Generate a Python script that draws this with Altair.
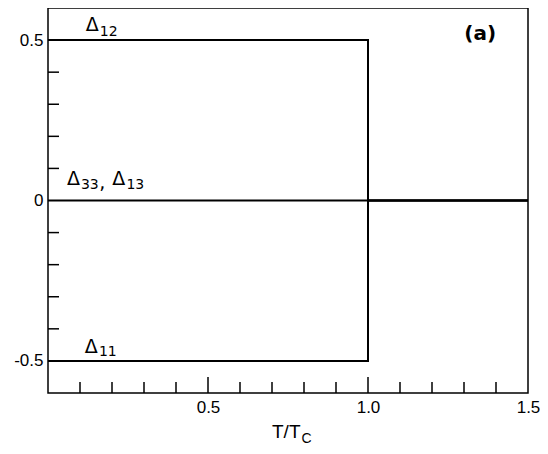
import altair as alt
import pandas as pd

W, H = 480, 385
FONT = "DejaVu Sans"
LFONT = "Liberation Sans"

# ---- data ----
d12_x = [0.0, 1.0, 1.0, 1.5]
d12_y = [0.5, 0.5, 0.0, 0.0]
d11_x = [0.0, 1.0, 1.0, 1.5]
d11_y = [-0.5, -0.5, 0.0, 0.0]
d33_x = [0.0, 1.5]
d33_y = [0.0, 0.0]

x_minor = [0.1, 0.2, 0.3, 0.4, 0.6, 0.7, 0.8, 0.9, 1.1, 1.2, 1.3, 1.4]
x_major = [0.5, 1.0]
y_minor = [-0.4, -0.3, -0.2, -0.1, 0.1, 0.2, 0.3, 0.4]
x_labels = [0.5, 1.0, 1.5]
y_labels = [-0.5, 0.0, 0.5]

main_text = ["Δ", "Δ", ",", "Δ", "Δ"]
main_x = [0.118, 0.059, 0.160, 0.201, 0.115]
main_y = [0.528, 0.047, 0.035, 0.047, -0.475]
sub_text = ["12", "33", "13", "11"]
sub_x = [0.162, 0.103, 0.245, 0.159]
sub_y = [0.513, 0.035, 0.035, -0.484]

# ---- tables ----
rows = []
for name, xs_, ys_ in [("D12", d12_x, d12_y), ("D11", d11_x, d11_y), ("D33", d33_x, d33_y)]:
    for i, (a, b) in enumerate(zip(xs_, ys_)):
        rows.append({"s": name, "x": a, "y": b, "o": i})
lines_df = pd.DataFrame(rows)

xs = alt.Scale(domain=[0, 1.5], nice=False, zero=False)
ys = alt.Scale(domain=[-0.6, 0.6], nice=False, zero=False)
XA = alt.Axis(values=x_labels, format=".1f", title=None, labelFlush=False, labelPadding=6)
YA = alt.Axis(values=y_labels, title=None, labelPadding=5,
              labelExpr="datum.value > 0.1 ? '0.5' : (datum.value < -0.1 ? '-0.5' : '0')")


def X(f):
    return alt.X(f, scale=xs, axis=XA)


def Y(f):
    return alt.Y(f, scale=ys, axis=YA)


lines = alt.Chart(lines_df).mark_line(color="black", strokeWidth=2).encode(
    x=X("x:Q"), y=Y("y:Q"), detail="s:N", order="o:Q")

xminor = alt.Chart(pd.DataFrame({"v": x_minor})).mark_rule(color="black", strokeWidth=1.5).encode(
    x=X("v:Q"), y=alt.value(H), y2=alt.value(H - 11))
xmajor = alt.Chart(pd.DataFrame({"v": x_major})).mark_rule(color="black", strokeWidth=1.5).encode(
    x=X("v:Q"), y=alt.value(H), y2=alt.value(H - 16))
yminor = alt.Chart(pd.DataFrame({"v": y_minor})).mark_rule(color="black", strokeWidth=1.5).encode(
    y=Y("v:Q"), x=alt.value(0), x2=alt.value(11))

main_df = pd.DataFrame({"t": main_text, "x": main_x, "y": main_y})
sub_df = pd.DataFrame({"t": sub_text, "x": sub_x, "y": sub_y})

mains = alt.Chart(main_df).mark_text(align="left", baseline="alphabetic", font=FONT,
                                     fontSize=19, color="black").encode(
    x=X("x:Q"), y=Y("y:Q"), text="t:N")
subs = alt.Chart(sub_df).mark_text(align="left", baseline="alphabetic", font=FONT,
                                   fontSize=14, color="black").encode(
    x=X("x:Q"), y=Y("y:Q"), text="t:N")

panel = alt.Chart(pd.DataFrame({"t": ["(a)"], "x": [1.301], "y": [0.501]})).mark_text(
    align="left", baseline="alphabetic", font=FONT, fontSize=20, fontWeight="bold", color="black").encode(
    x=X("x:Q"), y=Y("y:Q"), text="t:N")

title_main = alt.Chart(pd.DataFrame({"t": ["T/T"], "x": [0.70]})).mark_text(
    align="left", baseline="alphabetic", font=LFONT, fontSize=19, color="black").encode(
    x=X("x:Q"), y=alt.value(H + 45), text="t:N")
title_sub = alt.Chart(pd.DataFrame({"t": ["C"], "x": [0.792]})).mark_text(
    align="left", baseline="alphabetic", font=LFONT, fontSize=14, color="black").encode(
    x=X("x:Q"), y=alt.value(H + 50), text="t:N")

chart = alt.layer(lines, xminor, xmajor, yminor, mains, subs, panel, title_main, title_sub).properties(
    width=W, height=H,
    autosize=alt.AutoSizeParams(type="none"),
    padding={"left": 40, "top": 0, "right": 12, "bottom": 52},
).configure_view(stroke="black", strokeWidth=1.5).configure_axis(
    domain=False, ticks=False, grid=False, labelFont=LFONT, labelFontSize=17, labelColor="black"
)

chart.save("out.html", embed_options={"renderer": "svg", "actions": False})
